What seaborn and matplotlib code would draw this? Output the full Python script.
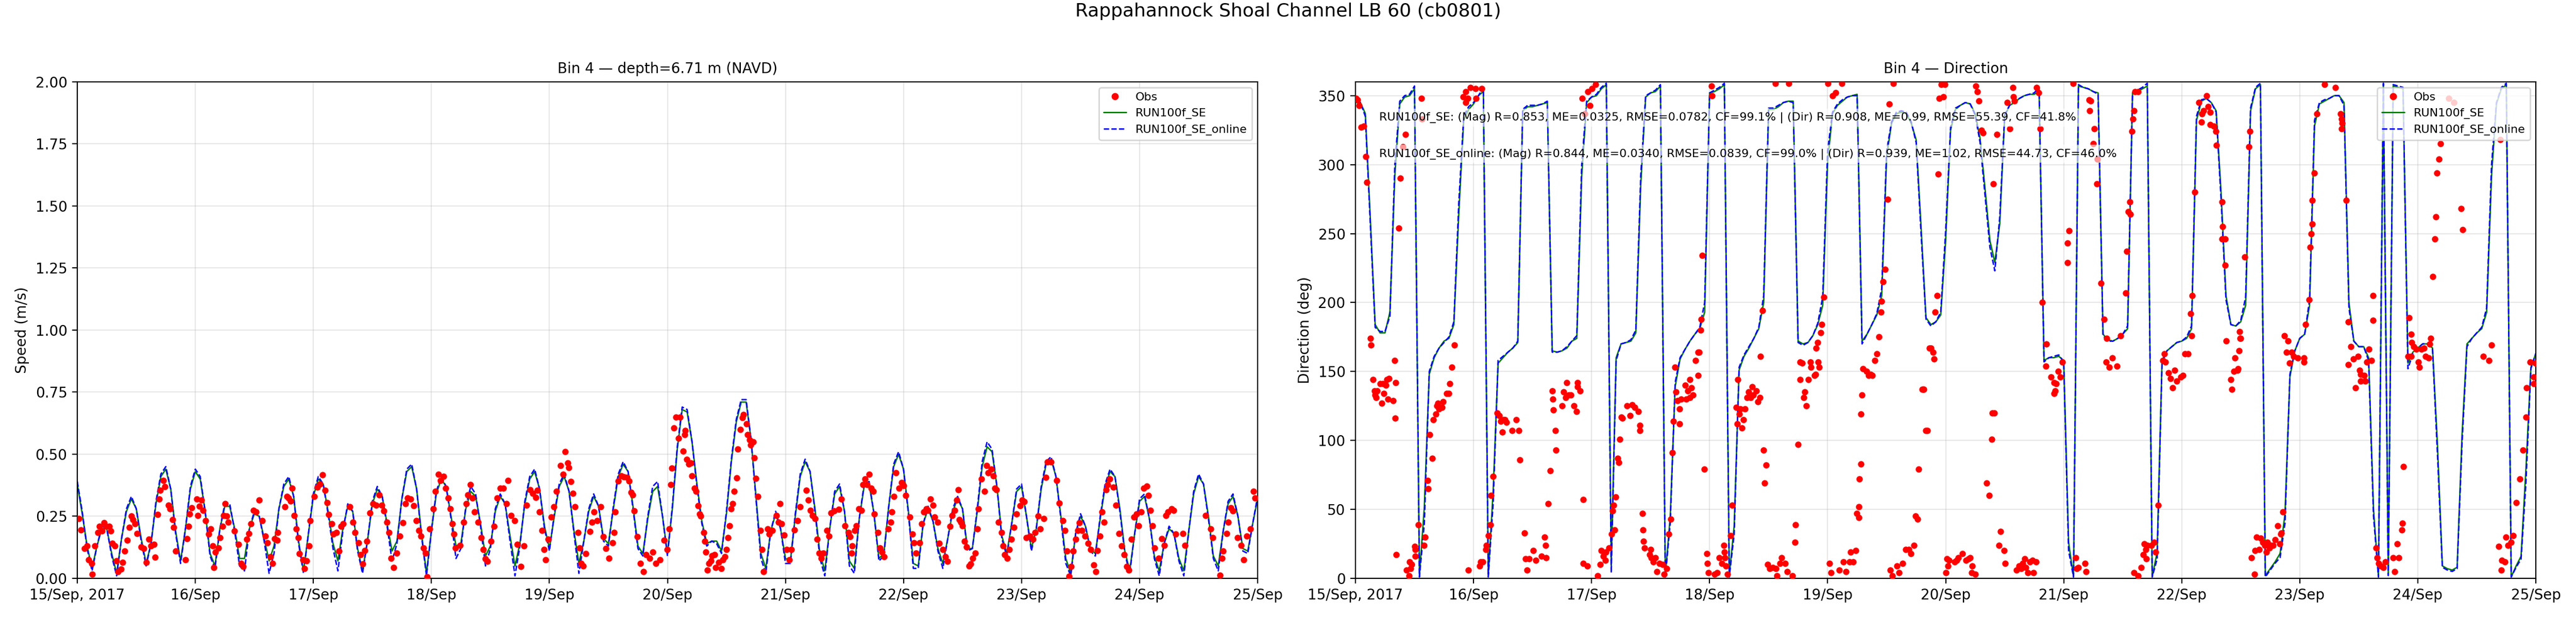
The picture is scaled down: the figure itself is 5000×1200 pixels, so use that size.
import numpy as np
import pandas as pd
import matplotlib
matplotlib.use("Agg")
import matplotlib.pyplot as plt
import matplotlib.dates as mdates
from matplotlib.lines import Line2D
import seaborn as sns

# ---------------- data ----------------
start = pd.Timestamp("2017-09-15 00:00")
end = pd.Timestamp("2017-09-25 00:00")
tick_days = ["2017-09-15", "2017-09-16", "2017-09-17", "2017-09-18", "2017-09-19", "2017-09-20",
             "2017-09-21", "2017-09-22", "2017-09-23", "2017-09-24", "2017-09-25"]

# hourly model speed (m/s), 15 Sep 00:00 .. 25 Sep 00:00
spd_se = [0.38,0.26,0.13,0.04,0.13,0.20,0.20,0.10,0.02,0.16,
          0.27,0.32,0.28,0.16,0.06,0.14,0.30,0.41,0.44,0.36,
          0.19,0.07,0.20,0.36,0.43,0.40,0.27,0.10,0.05,0.20,
          0.29,0.29,0.20,0.08,0.08,0.20,0.26,0.25,0.16,0.07,
          0.13,0.28,0.37,0.40,0.33,0.15,0.03,0.18,0.33,0.40,
          0.38,0.27,0.14,0.07,0.20,0.29,0.27,0.12,0.03,0.15,
          0.30,0.36,0.33,0.22,0.11,0.15,0.32,0.43,0.45,0.36,
          0.18,0.02,0.19,0.34,0.40,0.37,0.25,0.13,0.14,0.28,
          0.35,0.33,0.22,0.09,0.13,0.27,0.33,0.30,0.17,0.05,
          0.14,0.30,0.40,0.43,0.36,0.21,0.12,0.25,0.37,0.41,
          0.35,0.19,0.06,0.15,0.27,0.33,0.29,0.16,0.14,0.28,
          0.41,0.46,0.43,0.29,0.13,0.10,0.24,0.35,0.37,0.25,
          0.10,0.28,0.52,0.68,0.67,0.55,0.38,0.23,0.14,0.15,
          0.15,0.11,0.26,0.47,0.63,0.71,0.71,0.56,0.33,0.10,
          0.04,0.19,0.26,0.20,0.08,0.07,0.25,0.41,0.47,0.43,
          0.28,0.10,0.03,0.20,0.34,0.37,0.27,0.07,0.04,0.24,
          0.37,0.38,0.26,0.08,0.10,0.29,0.45,0.50,0.44,0.27,
          0.06,0.05,0.22,0.28,0.23,0.12,0.06,0.16,0.27,0.32,
          0.28,0.12,0.12,0.27,0.45,0.53,0.51,0.37,0.17,0.10,
          0.22,0.35,0.37,0.25,0.12,0.20,0.36,0.46,0.48,0.41,
          0.25,0.08,0.02,0.18,0.25,0.21,0.12,0.10,0.24,0.37,
          0.43,0.41,0.28,0.11,0.03,0.18,0.31,0.33,0.24,0.09,
          0.03,0.14,0.20,0.18,0.08,0.03,0.19,0.34,0.41,0.38,
          0.25,0.09,0.05,0.19,0.30,0.33,0.25,0.12,0.11,0.22,
          0.32]

spd_online = [0.39,0.27,0.12,0.03,0.13,0.21,0.20,0.09,0.01,0.16,
              0.28,0.33,0.28,0.15,0.05,0.14,0.31,0.42,0.45,0.36,
              0.18,0.06,0.20,0.37,0.44,0.41,0.27,0.09,0.04,0.20,
              0.30,0.30,0.19,0.05,0.03,0.20,0.27,0.25,0.15,0.02,
              0.10,0.28,0.38,0.41,0.33,0.14,0.02,0.18,0.34,0.41,
              0.38,0.26,0.12,0.03,0.19,0.30,0.27,0.11,0.02,0.15,
              0.31,0.37,0.33,0.21,0.07,0.14,0.32,0.44,0.46,0.36,
              0.17,0.01,0.19,0.35,0.41,0.37,0.24,0.08,0.12,0.29,
              0.37,0.34,0.21,0.05,0.12,0.28,0.34,0.30,0.15,0.01,
              0.13,0.31,0.41,0.44,0.36,0.20,0.11,0.26,0.38,0.42,
              0.35,0.18,0.02,0.15,0.28,0.34,0.29,0.15,0.13,0.29,
              0.42,0.47,0.43,0.28,0.12,0.09,0.25,0.37,0.39,0.25,
              0.09,0.29,0.53,0.69,0.68,0.55,0.37,0.22,0.13,0.15,
              0.14,0.10,0.27,0.48,0.64,0.72,0.72,0.56,0.32,0.08,
              0.02,0.19,0.27,0.20,0.06,0.06,0.26,0.42,0.48,0.43,
              0.27,0.08,0.01,0.20,0.35,0.38,0.27,0.05,0.02,0.24,
              0.38,0.39,0.26,0.07,0.09,0.29,0.46,0.51,0.44,0.26,
              0.04,0.04,0.22,0.29,0.23,0.11,0.04,0.16,0.28,0.33,
              0.28,0.11,0.12,0.28,0.47,0.55,0.52,0.37,0.16,0.09,
              0.22,0.36,0.38,0.25,0.11,0.20,0.37,0.47,0.49,0.41,
              0.24,0.06,0.01,0.18,0.26,0.21,0.11,0.09,0.25,0.38,
              0.44,0.41,0.27,0.10,0.02,0.18,0.32,0.34,0.24,0.08,
              0.01,0.14,0.21,0.18,0.07,0.01,0.19,0.35,0.42,0.38,
              0.24,0.08,0.03,0.19,0.31,0.34,0.25,0.11,0.10,0.22,
              0.33]

# hourly model direction (deg)
dir_se = [345,345,337,262,184,178,178,193,292,344,
          349,350,355,2,52,148,160,167,172,174,
          184,264,332,340,344,350,353,2,64,156,
          160,164,167,171,339,342,342,343,344,345,
          165,164,165,167,172,174,292,345,349,350,
          355,358,9,160,170,171,172,178,285,349,
          352,353,357,2,45,139,159,166,172,177,
          181,193,352,353,355,358,2,38,151,161,
          167,174,181,200,340,340,342,345,346,346,
          172,170,171,176,184,198,302,337,343,346,
          349,350,351,172,177,184,191,205,306,330,
          337,338,337,330,318,255,189,184,186,191,
          245,325,340,343,345,344,337,319,283,245,
          229,257,335,343,345,348,350,351,351,353,
          158,160,160,161,158,26,1,357,356,355,
          353,352,177,173,172,174,177,181,352,353,
          355,357,1,19,158,165,168,171,172,174,
          181,332,346,348,345,339,280,205,184,183,
          186,198,339,355,358,2,7,12,18,47,
          146,165,174,177,198,328,344,346,348,350,
          350,345,200,172,168,168,160,50,1,358,
          3,357,356,355,156,164,167,170,170,167,
          97,9,7,6,8,104,170,174,178,181,
          193,292,344,355,358,1,9,16,80,153,
          163]

dir_online = [346,345,335,258,182,179,179,190,300,346,
              350,351,357,1,40,150,161,167,171,175,
              186,272,335,342,345,350,356,1,55,158,
              161,164,167,172,340,343,343,343,344,346,
              164,164,165,168,172,176,300,346,349,351,
              356,359,4,158,170,171,173,180,292,350,
              352,354,358,1,40,142,160,166,172,177,
              182,200,352,354,356,359,1,32,153,162,
              168,174,182,205,341,341,343,345,346,345,
              171,169,171,176,185,204,310,338,344,347,
              349,350,350,170,177,184,192,210,310,331,
              338,339,338,331,316,250,188,183,186,193,
              252,327,341,343,345,344,336,316,278,240,
              223,262,336,343,346,348,350,351,352,356,
              157,160,161,162,157,20,1,358,356,355,
              353,351,176,172,172,174,177,183,352,354,
              356,359,1,14,156,165,168,171,172,175,
              183,335,347,348,345,338,275,202,184,183,
              187,204,341,356,359,1,6,11,15,40,
              148,165,174,177,202,332,345,347,348,350,
              350,343,196,172,168,168,158,45,1,359,
              2,358,357,356,152,163,167,170,170,166,
              90,8,6,5,7,98,168,174,178,182,
              196,300,345,356,359,1,8,14,70,152,
              163]

# observed speed (hours after 15 Sep 00:00, m/s)
obs_spd_h = [0.3,0.7,1.5,2.0,2.3,2.9,3.0,3.6,4.2,4.5,5.0,5.4,5.9,6.5,6.8,7.1,7.6,8.0,8.3,8.9,
             9.2,9.6,10.2,10.6,11.0,11.3,11.7,12.2,13.0,13.5,14.0,14.6,15.0,15.6,15.8,16.3,16.7,16.9,17.5,17.8,
             18.5,18.9,19.4,19.6,20.0,22.0,22.3,22.6,22.8,23.3,24.3,24.5,24.8,25.2,25.6,26.1,26.7,27.1,27.5,27.8,
             28.1,28.7,29.0,29.5,29.7,30.1,30.4,30.7,31.9,32.8,33.3,33.7,34.5,34.9,35.3,35.8,36.3,37.0,37.6,38.2,
             38.7,39.3,39.7,40.1,40.6,40.8,42.2,42.6,43.0,43.4,43.7,44.1,44.5,44.9,45.2,45.9,46.2,46.6,47.1,47.4,
             48.2,48.8,49.3,49.9,50.4,50.8,51.1,51.7,52.1,52.7,53.2,53.6,54.1,55.4,56.0,56.5,57.2,57.6,58.0,58.5,
             58.9,59.5,60.1,60.8,61.4,61.9,62.3,63.0,63.4,63.8,64.3,64.9,65.6,66.2,66.7,67.2,67.8,68.4,68.9,69.5,
             69.9,70.4,70.8,71.1,71.7,72.4,72.8,73.4,73.9,74.5,74.9,75.4,75.8,76.3,76.6,76.9,77.8,78.6,79.1,79.4,
             79.9,80.4,80.8,81.5,82.1,82.5,83.0,83.4,84.1,84.7,85.4,86.0,86.6,87.3,87.6,88.2,88.9,89.5,90.2,90.8,
             91.4,92.1,92.6,93.2,93.6,94.0,94.5,94.9,95.2,95.8,96.4,96.9,97.4,98.3,98.8,99.2,99.7,99.9,100.4,100.8,
             101.2,101.8,102.1,102.5,102.9,103.4,104.2,104.7,105.1,105.7,106.4,107.0,107.5,108.1,108.8,109.2,109.4,110.0,110.6,111.2,
             111.8,112.2,112.6,112.9,113.2,113.9,114.5,115.1,115.7,116.4,117.0,117.6,118.5,119.3,119.9,
             120.4,120.7,120.9,121.3,121.7,122.2,122.6,123.2,123.5,123.6,123.9,124.3,124.8,125.0,125.5,125.8,126.2,126.5,126.8,127.4,
             127.6,127.8,128.1,128.4,128.9,129.1,129.6,129.8,130.4,130.9,131.3,131.7,132.0,132.3,132.6,132.9,133.2,133.6,134.1,134.3,
             134.8,135.2,135.5,136.1,136.3,136.7,136.9,137.4,137.6,138.0,138.4,138.9,139.2,139.5,140.4,140.7,141.3,142.2,142.6,142.9,
             143.2,143.7,144.3,144.8,145.2,145.8,146.5,147.0,148.2,148.7,149.1,149.5,150.0,150.4,150.8,151.3,151.7,152.4,152.8,153.3,
             153.9,154.8,155.4,156.1,156.8,157.1,157.4,157.6,158.1,158.4,158.9,159.4,159.8,160.2,160.6,161.0,161.4,161.9,162.1,162.8,
             163.2,163.6,164.1,164.9,165.4,165.6,166.0,166.5,167.1,167.6,168.0,168.5,169.3,169.8,170.1,170.5,171.3,171.7,172.1,172.6,
             173.0,173.5,174.0,174.3,174.9,175.3,176.0,176.5,176.9,177.5,177.9,178.4,178.8,179.1,179.3,179.7,180.0,180.4,180.8,181.3,
             181.7,182.1,182.6,183.0,183.2,183.9,184.5,184.9,185.2,185.8,186.3,186.6,186.9,187.3,187.9,188.2,188.6,189.1,189.5,189.9,
             190.5,191.0,191.7,192.1,192.5,193.0,193.7,194.3,194.7,195.4,195.8,196.5,196.9,197.3,198.0,199.1,199.7,200.4,200.8,201.2,
             201.7,202.1,202.5,203.0,203.4,203.8,204.3,204.9,205.5,206.1,206.7,207.1,207.4,207.9,208.4,208.8,209.2,209.5,209.9,210.7,
             211.2,211.8,212.3,212.9,213.4,213.8,214.3,214.9,215.4,215.8,216.3,216.9,217.5,217.8,218.2,218.6,219.0,219.9,220.5,221.0,
             221.4,221.8,222.5,222.9,223.3,224.8,225.2,229.4,230.5,230.9,232.4,232.8,233.0,233.7,234.0,234.6,235.0,235.9,236.6,237.2,
             237.8,238.5,239.2,239.5]
obs_spd = [0.24,0.195,0.12,0.13,0.075,0.06,0.016,0.13,0.185,0.21,0.19,0.225,0.21,0.21,0.19,0.14,0.13,0.07,0.026,0.037,
           0.064,0.11,0.154,0.205,0.25,0.236,0.22,0.18,0.126,0.12,0.064,0.157,0.13,0.137,0.085,0.257,0.32,0.354,0.395,0.37,
           0.295,0.28,0.236,0.205,0.11,0.075,0.16,0.21,0.26,0.285,0.32,0.254,0.29,0.316,0.274,0.233,0.178,0.2,0.13,0.043,
           0.106,0.123,0.164,0.21,0.254,0.30,0.25,0.226,0.19,0.137,0.06,0.047,0.157,0.18,0.22,0.274,0.268,0.316,0.233,0.171,
           0.143,0.088,0.06,0.16,0.154,0.185,0.288,0.33,0.323,0.312,0.364,0.254,0.2,0.164,0.1,0.075,0.04,0.071,0.13,0.233,
           0.33,0.367,0.38,0.416,0.354,0.305,0.257,0.22,0.178,0.185,0.11,0.21,0.22,0.288,0.226,0.185,0.143,0.095,0.057,0.112,
           0.15,0.264,0.30,0.295,0.337,0.295,0.271,0.226,0.185,0.081,0.043,0.102,0.171,0.223,0.30,0.323,0.32,0.292,0.233,0.192,
           0.171,0.123,0.102,0.006,0.2,0.28,0.35,0.42,0.395,0.41,0.364,0.323,0.28,0.22,0.178,0.123,0.133,0.226,0.30,0.337,
           0.378,0.323,0.268,0.226,0.164,0.116,0.078,0.068,0.15,0.21,0.323,0.364,0.364,0.30,0.395,0.254,0.233,0.137,0.047,0.13,
           0.295,0.357,0.343,0.326,0.354,0.268,0.192,0.116,0.075,0.157,0.247,0.288,0.35,0.454,0.42,0.51,0.464,0.447,0.39,0.343,
           0.288,0.185,0.123,0.06,0.05,0.099,0.188,0.226,0.268,0.233,0.288,0.168,0.12,0.081,0.143,0.185,0.268,0.392,0.412,0.409,
           0.406,0.392,0.347,0.337,0.271,0.168,0.06,0.026,0.095,0.081,0.106,0.06,0.075,0.154,0.116,
           0.2,0.378,0.443,0.605,0.65,0.564,0.65,0.512,0.578,0.595,0.48,0.46,0.464,0.412,0.364,0.35,0.292,0.26,0.25,0.185,
           0.15,0.106,0.033,0.06,0.071,0.092,0.095,0.043,0.064,0.04,0.074,0.088,0.116,0.164,0.212,0.281,0.30,0.35,0.405,0.52,
           0.60,0.647,0.66,0.623,0.578,0.557,0.537,0.55,0.485,0.402,0.33,0.192,0.116,0.026,0.2,0.178,0.192,0.254,0.226,0.30,
           0.22,0.174,0.116,0.074,0.116,0.195,0.233,0.288,0.354,0.316,0.274,0.254,0.24,0.157,0.102,0.081,0.102,0.192,0.171,0.264,
           0.271,0.278,0.32,0.212,0.185,0.168,0.102,0.13,0.192,0.212,0.281,0.274,0.378,0.4,0.378,0.42,0.364,0.35,0.26,0.185,
           0.123,0.106,0.088,0.2,0.226,0.268,0.33,0.426,0.364,0.385,0.374,0.333,0.247,0.178,0.143,0.102,0.143,0.22,0.268,0.281,
           0.274,0.32,0.295,0.247,0.226,0.14,0.116,0.088,0.068,0.209,0.254,0.274,0.316,0.357,0.236,0.226,0.212,0.15,0.126,0.05,
           0.057,0.081,0.102,0.2,0.281,0.4,0.35,0.454,0.426,0.44,0.412,0.364,0.357,0.226,0.185,0.13,0.095,0.081,0.116,0.157,
           0.205,0.26,0.292,0.316,0.309,0.164,0.171,0.157,0.185,0.25,0.2,0.24,0.406,0.468,0.468,0.395,0.302,0.233,0.192,0.109,
           0.009,0.047,0.109,0.157,0.192,0.223,0.192,0.171,0.14,0.116,0.054,0.026,0.112,0.171,0.268,0.226,0.357,0.378,0.4,0.368,
           0.295,0.181,0.13,0.095,0.047,0.033,0.157,0.247,0.26,0.212,0.268,0.364,0.371,0.333,0.274,0.212,0.123,0.081,0.16,0.133,
           0.254,0.268,0.281,0.274,0.178,0.181,0.133,0.254,0.2,0.164,0.012,0.081,0.109,0.181,0.226,0.285,0.271,0.164,0.133,0.074,
           0.171,0.2,0.35,0.323]

# observed direction (hours after 15 Sep 00:00, deg)
obs_dir_h = [0.1,0.4,0.7,1.2,1.7,2.1,2.3,3.0,3.1,3.6,3.9,4.0,4.2,4.4,5.0,5.3,5.5,5.8,6.2,6.4,
             6.8,6.6,7.6,8.0,8.1,8.2,8.3,8.8,9.1,9.6,10.2,10.4,10.9,11.0,11.2,11.4,12.0,12.2,12.2,12.8,
             13.4,13.5,13.9,14.1,15.1,15.6,14.7,14.8,15.8,16.3,16.6,16.8,17.0,17.6,17.8,18.5,19.0,19.2,19.6,20.1,
             21.9,22.4,22.4,22.8,23.4,24.4,24.5,25.7,22.9,25.2,25.5,25.9,26.5,26.6,27.0,27.4,27.6,28.0,28.8,29.2,
             29.5,29.9,30.1,30.4,30.7,31.8,32.7,33.2,33.4,34.4,34.6,34.9,35.3,36.1,36.7,37.8,38.4,38.7,38.8,39.2,
             39.6,40.0,40.1,40.2,40.6,40.7,42.0,42.3,42.7,43.0,43.4,43.8,44.4,44.9,45.1,45.2,45.7,46.1,46.3,46.6,
             47.2,47.7,48.1,48.8,46.3,47.1,49.2,49.8,50.0,50.4,50.8,50.9,51.5,52.1,52.3,52.5,52.7,52.9,53.3,53.5,
             53.7,54.1,54.3,55.2,55.8,56.3,56.8,57.5,57.8,57.8,58.3,58.5,58.6,58.8,60.0,59.8,60.1,60.6,61.0,61.3,
             61.8,62.4,62.7,63.3,63.7,64.1,64.4,64.6,65.0,65.2,65.5,65.9,65.9,66.2,67.0,67.3,67.6,68.0,68.3,68.0,
             68.6,69.1,69.7,69.9,69.7,70.2,70.9,70.3,70.5,71.4,71.6,71.8,72.4,72.5,73.0,73.5,74.0,74.5,74.9,75.0,
             75.1,75.3,75.6,76.3,76.6,77.7,77.4,77.6,78.0,78.3,78.6,78.9,79.2,79.6,79.9,80.3,80.7,80.9,81.5,81.8,
             82.2,82.3,82.8,83.0,83.5,83.2,83.8,84.2,84.9,85.5,85.7,86.3,86.6,87.4,87.8,88.8,85.4,88.1,89.4,89.5,
             90.0,90.4,90.4,90.8,91.1,91.4,91.7,92.1,92.5,92.6,93.3,93.5,93.7,94.0,94.1,94.3,94.6,94.8,95.2,96.1,
             96.4,96.7,97.0,97.6,98.4,98.9,99.2,99.7,100.5,100.7,101.2,101.7,101.9,102.3,102.3,102.5,102.8,102.8,103.0,103.2,
             103.9,104.3,104.8,105.1,105.6,106.0,106.4,106.9,107.0,107.3,107.7,108.2,108.5,109.4,108.7,109.2,110.1,110.5,111.3,111.9,
             112.5,112.9,113.6,113.9,114.3,114.5,115.2,116.0,116.7,115.4,115.6,116.3,117.0,117.4,117.6,117.9,118.3,118.5,118.7,119.1,
             119.5,119.8,120.1,120.3,120.5,120.7,121.8,122.2,122.6,123.4,124.1,124.7,125.0,125.4,126.0,125.3,126.1,126.4,126.8,127.3,
             127.6,128.3,128.8,129.4,129.5,129.9,129.7,130.4,130.8,131.2,131.9,132.1,132.5,133.0,133.7,134.0,133.8,134.4,134.9,135.3,
             135.7,136.1,136.3,136.7,137.1,137.6,137.9,138.4,138.5,138.9,139.2,139.6,140.4,140.5,141.4,142.0,142.3,142.1,142.5,142.9,
             143.3,143.7,144.8,144.8,145.1,145.9,146.5,146.7,147.0,148.3,148.5,149.2,149.5,149.3,150.2,150.0,150.8,150.7,151.6,152.2,
             152.7,152.6,153.3,153.9,154.8,155.6,156.6,156.8,157.1,157.4,157.6,157.9,158.1,158.3,158.5,159.1,158.3,159.1,159.8,160.2,
             160.4,160.7,160.8,161.0,161.8,162.4,162.7,163.2,164.2,164.5,164.7,165.3,165.7,166.1,166.6,167.0,167.8,168.2,168.7,169.3,
             169.8,170.0,170.1,170.7,171.5,172.0,172.1,172.4,173.1,173.4,173.8,173.8,174.5,174.9,175.1,176.2,176.3,176.2,176.8,176.8,
             177.0,178.2,178.0,178.8,178.6,179.3,179.7,179.9,179.8,180.0,179.5,180.8,181.6,181.9,182.2,182.8,182.9,183.2,183.7,184.1,
             184.5,184.9,185.2,185.4,185.8,186.2,186.6,187.0,187.5,187.9,188.1,188.2,188.6,188.9,189.3,189.6,189.9,190.3,190.8,191.6,
             192.9,192.9,193.2,193.9,194.1,194.3,194.5,194.5,195.0,195.5,197.0,199.3,200.3,200.5,200.5,200.6,201.4,201.9,202.4,201.9,
             202.9,203.3,203.9,204.2,204.4,204.4,205.1,205.3,205.6,206.1,206.6,206.9,206.9,207.5,207.7,208.0,208.5,209.0,209.4,211.0,
             211.3,211.8,212.1,212.8,212.9,213.1,214.2,214.6,214.8,214.0,214.6,215.2,215.7,216.1,216.3,216.7,217.3,217.6,218.2,218.6,
             218.4,219.0,219.5,219.7,219.9,220.3,220.6,222.3,223.3,224.8,225.1,229.3,230.5,231.0,232.8,232.5,233.0,233.1,233.7,233.9,
             234.3,235.0,235.4,236.0,236.8,237.4,238.0,238.1,238.9,239.6,239.6,239.9]
obs_dir = [348,347,343,327,328,306,287,174,169,144,136,133,131,136,141,127,141,134,140,144,
           145,130,129,158,116,142,17,254,290,313,322,6,2,12,7,10,23,21,16,39,
           348,333,24,30,104,87,71,65,115,119,125,127,123,124,128,134,134,141,153,169,
           349,353,345,348,356,355,348,355,6,9,12,12,21,24,31,39,60,74,120,118,
           114,106,115,115,113,107,115,107,86,33,14,6,14,20,13,16,30,24,15,54,
           78,136,130,122,107,93,125,135,131,142,133,133,125,121,142,139,136,348,57,337,
           353,343,355,358,11,9,2,10,20,16,13,19,22,32,49,53,35,59,87,84,
           101,117,116,125,118,126,124,121,111,107,47,35,27,22,21,17,15,12,15,5,
           11,10,3,7,32,43,91,114,153,135,129,123,112,130,140,130,136,144,138,131,
           133,158,164,164,147,180,79,188,234,18,11,4,357,350,3,4,15,11,24,19,
           15,9,3,31,53,144,124,112,119,123,109,115,123,131,135,131,139,133,136,128,
           131,161,194,93,82,69,10,7,8,7,2,11,15,11,5,2,359,359,26,39,
           97,157,144,156,131,135,125,144,157,153,147,148,167,171,157,153,178,184,204,359,
           11,4,350,352,6,359,12,5,12,19,12,20,47,52,44,72,83,119,133,152,
           150,147,148,147,158,163,175,193,201,215,224,275,344,359,6,2,9,4,11,21,
           21,18,24,45,43,79,137,107,167,137,137,107,167,164,159,193,205,293,348,358,
           349,358,4,14,9,13,12,13,15,18,13,14,15,9,3,4,357,353,346,325,
           323,69,60,101,120,120,286,322,24,34,20,11,345,326,356,346,349,6,9,7,
           11,14,8,4,12,13,4,12,356,352,326,200,154,170,146,142,136,134,141,150,
           146,157,243,229,252,359,15,7,8,11,5,347,346,339,326,315,304,286,214,188,
           174,157,153,160,154,176,207,237,266,273,264,324,333,339,353,353,4,2,8,17,
           25,21,14,24,24,26,19,53,158,163,157,149,145,138,151,143,146,147,163,163,
           192,176,205,280,345,331,337,339,350,342,338,329,328,324,314,273,255,246,246,227,
           172,137,144,160,150,151,165,174,179,174,152,233,313,324,15,3,20,30,21,29,
           26,24,19,26,22,24,24,28,38,25,32,33,48,176,164,172,156,164,161,160,
           160,157,184,202,240,250,257,274,294,337,358,356,337,333,326,330,274,186,168,155,
           159,138,161,151,148,143,147,143,157,166,158,205,187,22,15,11,9,8,12,15,
           5,25,15,35,40,81,189,177,171,161,161,168,166,157,153,166,167,161,160,174,
           170,219,246,262,294,304,315,348,345,268,253,161,158,169,318,23,6,13,12,30,
           24,26,31,55,72,93,117,138,157,141,146,156]

stats_se = "RUN100f_SE: (Mag) R=0.853, ME=0.0325, RMSE=0.0782, CF=99.1% | (Dir) R=0.908, ME=0.99, RMSE=55.39, CF=41.8%"
stats_online = "RUN100f_SE_online: (Mag) R=0.844, ME=0.0340, RMSE=0.0839, CF=99.0% | (Dir) R=0.939, ME=1.02, RMSE=44.73, CF=46.0%"

# ---------------- build frames ----------------
model_t = pd.date_range(start, periods=len(spd_se), freq="h")
model = pd.DataFrame({"t": model_t, "spd_se": spd_se, "spd_online": spd_online,
                      "dir_se": dir_se, "dir_online": dir_online})
obs_s = pd.DataFrame({"t": start + pd.to_timedelta(obs_spd_h, unit="h"), "v": obs_spd})
obs_d = pd.DataFrame({"t": start + pd.to_timedelta(obs_dir_h, unit="h"), "v": obs_dir})

# ---------------- style ----------------
sns.set_style("ticks")
plt.rcParams.update({
    "font.family": ["DejaVu Sans"],
    "axes.edgecolor": "black",
    "axes.linewidth": 0.8,
    "text.color": "black",
    "axes.labelcolor": "black",
    "xtick.color": "black",
    "ytick.color": "black",
    "xtick.major.size": 3.5,
    "ytick.major.size": 3.5,
})

fig = plt.figure(figsize=(25, 6), dpi=200)
ax1 = fig.add_axes([0.030, 0.0642, 0.4582, 0.8033])
ax2 = fig.add_axes([0.5262, 0.0642, 0.4582, 0.8033])

ticks = pd.to_datetime(tick_days)
tick_labels = [d.strftime("%d/%b") for d in ticks]
tick_labels[0] = ticks[0].strftime("%d/%b, %Y")


def draw(ax, obs, col_se, col_on):
    sns.scatterplot(data=obs, x="t", y="v", ax=ax, color="red", s=20, linewidth=0,
                    zorder=3, legend=False)
    sns.lineplot(data=model, x="t", y=col_se, ax=ax, color="green", linewidth=1.0,
                 estimator=None, sort=False, legend=False, zorder=2)
    sns.lineplot(data=model, x="t", y=col_on, ax=ax, color="blue", linewidth=1.0,
                 linestyle="--", estimator=None, sort=False, legend=False, zorder=2.5)
    ax.set_xlim(start, end)
    ax.set_xticks(ticks)
    ax.set_xticklabels(tick_labels)
    ax.set_xlabel("")
    ax.grid(True, color="#b0b0b0", alpha=0.3, linewidth=0.8)
    for sp in ax.spines.values():
        sp.set_visible(True)
        sp.set_color("black")
    handles = [Line2D([], [], color="red", marker="o", linestyle="none", markersize=4),
               Line2D([], [], color="green", linewidth=1.0),
               Line2D([], [], color="blue", linewidth=1.0, linestyle="--")]
    leg = ax.legend(handles, ["Obs", "RUN100f_SE", "RUN100f_SE_online"], loc="upper right",
                    fontsize=8, frameon=True)
    leg.set_zorder(10)


draw(ax1, obs_s, "spd_se", "spd_online")
ax1.set_ylim(0, 2.0)
ax1.set_yticks([0, 0.25, 0.5, 0.75, 1.0, 1.25, 1.5, 1.75, 2.0])
ax1.set_ylabel("Speed (m/s)")
ax1.set_title("Bin 4 \u2014 depth=6.71 m (NAVD)", fontsize=10)

draw(ax2, obs_d, "dir_se", "dir_online")
ax2.set_ylim(0, 360)
ax2.set_yticks([0, 50, 100, 150, 200, 250, 300, 350])
ax2.set_ylabel("Direction (deg)")
ax2.set_title("Bin 4 \u2014 Direction", fontsize=10)

box = dict(boxstyle="square,pad=0.3", facecolor="white", alpha=0.6, edgecolor="none")
ax2.text(0.02, 0.928, stats_se, transform=ax2.transAxes, fontsize=8, va="center", ha="left",
         bbox=box, zorder=6)
ax2.text(0.02, 0.855, stats_online, transform=ax2.transAxes, fontsize=8, va="center", ha="left",
         bbox=box, zorder=6)

fig.suptitle("Rappahannock Shoal Channel LB 60 (cb0801)", y=0.996, fontsize=13)

fig.savefig("out.png", dpi=200)
